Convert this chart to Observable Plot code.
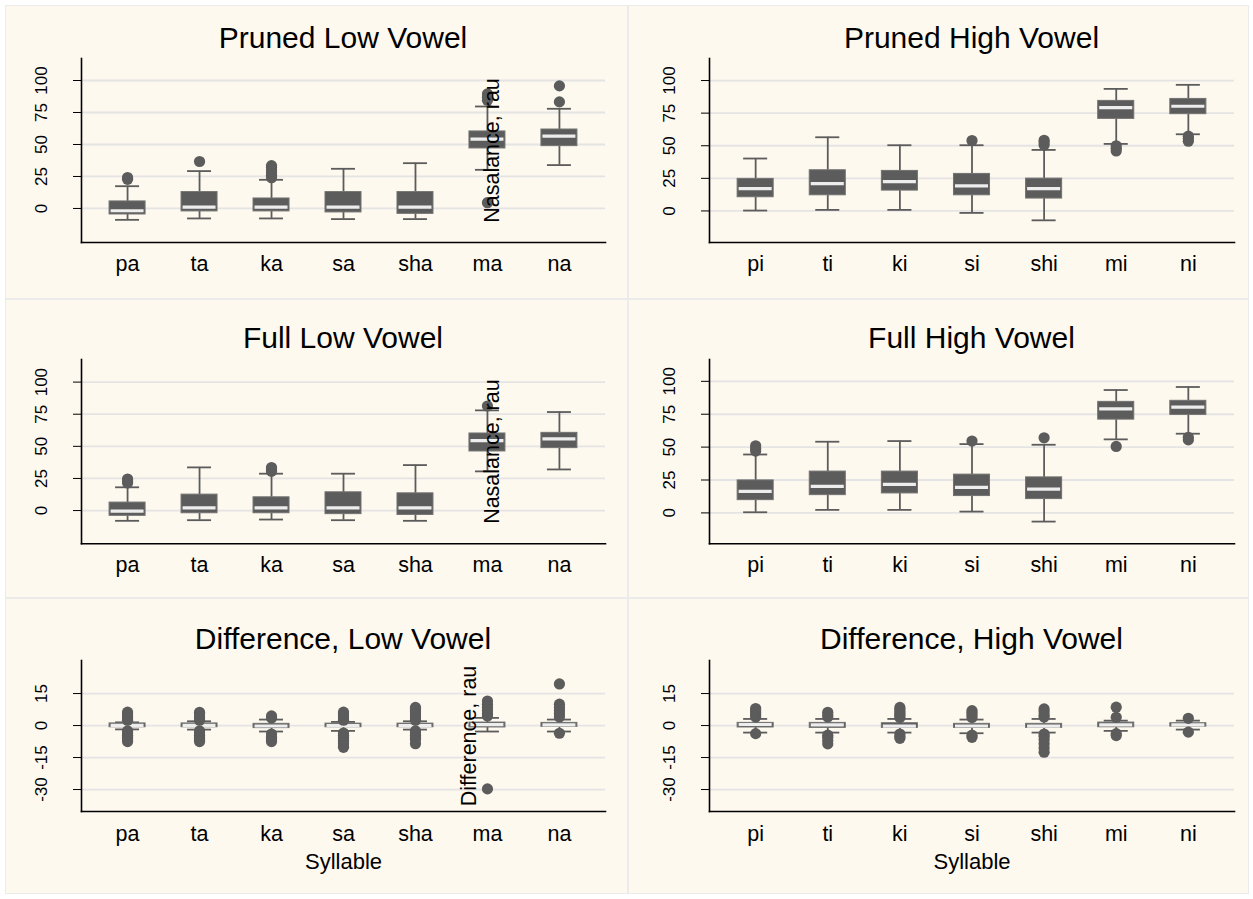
<!DOCTYPE html>
<html><head><meta charset="utf-8">
<script src="https://cdn.jsdelivr.net/npm/d3@7"></script>
<script src="https://cdn.jsdelivr.net/npm/@observablehq/plot@0.6"></script>
<style>
html,body{margin:0;padding:0;background:#fff;}
body{width:1253px;height:899px;position:relative;overflow:hidden;font-family:"Liberation Sans",Arial,Helvetica,sans-serif;}
.panel{position:absolute;background:#fef9ef;box-shadow:0 0 0 1px #ebebeb;}
.title{position:absolute;font-size:30px;line-height:30px;text-align:center;color:#000;white-space:nowrap;}
.plot{position:absolute;}
</style></head><body>
<script>
// ---------- categories ----------
const lowCats  = ["pa","ta","ka","sa","sha","ma","na"];
const highCats = ["pi","ti","ki","si","shi","mi","ni"];

// ---------- tick labels ----------
const nasTicks  = [0, 25, 50, 75, 100];
const diffTicks = [-30, -15, 0, 15];

// ---------- Pruned Low Vowel ----------
const prunedLowQ1  = [-4.7, -2.3, -2.3, -3.1, -4.2, 46.9, 48.7];
const prunedLowMed = [-1.8, 1.0, 1.0, 1.0, 1.0, 54.2, 56.5];
const prunedLowQ3  = [5.5, 12.8, 7.8, 12.8, 12.8, 60.2, 61.7];
const prunedLowLo  = [-8.9, -7.8, -7.8, -8.3, -8.3, 30.2, 33.9];
const prunedLowHi  = [17.4, 29.2, 22.4, 31.0, 35.4, 79.7, 77.9];
const prunedLowOut = [[22.8, 24.2], [36.7], [24, 26, 28, 30, 32, 33.5], [], [], [4.5, 84.5, 87, 89.5], [83.3, 95.8]];

// ---------- Pruned High Vowel ----------
const prunedHighQ1  = [10.5, 12.0, 15.6, 12.0, 9.5, 70.6, 74.2];
const prunedHighMed = [17.1, 21.0, 22.5, 19.2, 17.1, 79.3, 80.3];
const prunedHighQ3  = [24.6, 31.2, 30.7, 28.4, 24.8, 84.4, 85.9];
const prunedHighLo  = [0.3, 0.8, 0.8, -1.5, -7.2, 51.4, 58.8];
const prunedHighHi  = [40.2, 56.5, 50.4, 50.4, 46.8, 93.6, 96.7];
const prunedHighOut = [[], [], [], [54], [50.5, 52.5, 54.2], [46, 48, 50], [53.5, 55.5, 57.3]];

// ---------- Full Low Vowel ----------
const fullLowQ1  = [-4.1, -2.1, -2.1, -2.8, -3.4, 46.0, 48.6];
const fullLowMed = [-0.5, 2.1, 2.1, 2.1, 2.1, 54.5, 55.8];
const fullLowQ3  = [6.2, 12.4, 10.3, 14.2, 13.4, 60.0, 60.5];
const fullLowLo  = [-8.0, -7.5, -7.0, -7.5, -8.0, 30.5, 32.0];
const fullLowHi  = [18.1, 33.6, 28.7, 28.7, 35.4, 78.0, 76.7];
const fullLowOut = [[21.5, 23, 24.5], [], [30.5, 32, 33.5], [], [], [81.4], []];

// ---------- Full High Vowel ----------
const fullHighQ1  = [9.7, 13.5, 14.8, 12.8, 10.5, 70.9, 74.5];
const fullHighMed = [16.3, 20.2, 21.7, 19.4, 18.1, 79.1, 80.4];
const fullHighQ3  = [24.7, 31.4, 31.4, 29.1, 27.0, 84.4, 85.2];
const fullHighLo  = [0.5, 2.3, 2.3, 1.0, -6.6, 55.9, 60.2];
const fullHighHi  = [44.4, 54.1, 54.6, 52.3, 51.8, 93.4, 95.7];
const fullHighOut = [[47, 49, 51], [], [], [54.6], [57.1], [50.5], [55.5, 57.5]];

// ---------- Difference, Low Vowel ----------
const diffLowQ1  = [-0.8, -0.8, -1.2, -0.8, -0.8, -0.9, -0.6];
const diffLowMed = [0.1, 0.1, -0.2, 0.0, 0.0, 0.4, 0.3];
const diffLowQ3  = [1.0, 1.0, 0.8, 0.9, 0.9, 1.4, 1.25];
const diffLowLo  = [-1.8, -1.9, -2.8, -2.5, -1.9, -2.8, -2.8];
const diffLowHi  = [1.5, 2.0, 2.8, 1.7, 2.0, 3.6, 2.8];
const diffLowOut = [
  [2.5, 3.5, 4.5, 5.5, 6.3, -2.5, -3.5, -4.5, -5.5, -6.5, -7.5],
  [2.5, 3.5, 4.5, 5.5, 6.2, -2.5, -3.5, -4.5, -5.5, -6.5, -7.5],
  [3.5, 4.5, -4, -5.5, -6.5, -7.5],
  [2.5, 3.5, 4.5, 5.5, 6.3, -3.5, -4.5, -5.5, -6.5, -7.5, -8.5, -9.5, -10.2],
  [2.5, 3.5, 4.5, 5.5, 6.5, 7.5, 8.5, -2.5, -3.5, -4.5, -5.5, -6.5, -8.5],
  [4.5, 5.5, 7, 8.5, 10, 11.5, -29.7],
  [19.5, 4, 5.5, 7, 8.5, 10, -3.6]
];

// ---------- Difference, High Vowel ----------
const diffHighQ1  = [-0.9, -1.1, -1.1, -1.1, -1.1, -0.8, -0.5];
const diffHighMed = [0.5, 0.3, -0.3, -0.2, -0.3, 0.3, 0.3];
const diffHighQ3  = [1.25, 1.25, 1.1, 0.8, 0.8, 1.4, 1.1];
const diffHighLo  = [-3.3, -3.3, -3.3, -3.6, -3.3, -2.5, -1.9];
const diffHighHi  = [3.1, 3.1, 3.1, 2.8, 3.1, 2.3, 2.3];
const diffHighOut = [
  [4, 5, 6, 7, 8, -3.8],
  [4, 5, 6.2, -4.5, -5.5, -7, -8.6],
  [3.8, 4.7, 5.5, 6.5, 7.5, 8.5, -4, -5, -6],
  [3.8, 5, 6, 7, -4.5, -5.5],
  [4, 5, 6.5, 7.8, -4, -5, -6.5, -8.5, -10.5, -12.5],
  [3.9, 8.6, -3.8, -4.7],
  [3.4, -3.1]
];

// ---------- titles / labels ----------
const titles = ["Pruned Low Vowel", "Pruned High Vowel", "Full Low Vowel", "Full High Vowel", "Difference, Low Vowel", "Difference, High Vowel"];
const yTitleNas = "Nasalance, rau";
const yTitleDiff = "Difference, rau";
const xTitle = "Syllable";

// ---------- layout ----------
const FONT = '"Liberation Sans", Arial, Helvetica, sans-serif';
const DARK = "#5c5c5c";
const cols = [
  {left: 6, width: 621, fL: 81, fR: 605},
  {left: 629, width: 619, fL: 709, fR: 1234}
];
const rows = [
  {top: 6, h: 292, fT: 58.3, fB: 242.3, tBase: 48.2, bottom: false},
  {top: 300, h: 297, fT: 358.6, fB: 542.8, tBase: 348.2, bottom: false},
  {top: 599, h: 294, fT: 660, fB: 811, tBase: 649, bottom: true}
];

const panels = [
  {r: 0, c: 0, cats: lowCats,  q1: prunedLowQ1, med: prunedLowMed, q3: prunedLowQ3, lo: prunedLowLo, hi: prunedLowHi, out: prunedLowOut, ticks: nasTicks, yTitle: yTitleNas, yDx: 149, dom: [-26.6, 117.2]},
  {r: 0, c: 1, cats: highCats, q1: prunedHighQ1, med: prunedHighMed, q3: prunedHighQ3, lo: prunedHighLo, hi: prunedHighHi, out: prunedHighOut, ticks: nasTicks, dom: [-24.2, 116.9]},
  {r: 1, c: 0, cats: lowCats,  q1: fullLowQ1, med: fullLowMed, q3: fullLowQ3, lo: fullLowLo, hi: fullLowHi, out: fullLowOut, ticks: nasTicks, yTitle: yTitleNas, yDx: 149, dom: [-25.8, 117.6]},
  {r: 1, c: 1, cats: highCats, q1: fullHighQ1, med: fullHighMed, q3: fullHighQ3, lo: fullHighLo, hi: fullHighHi, out: fullHighOut, ticks: nasTicks, dom: [-23.4, 116.6]},
  {r: 2, c: 0, cats: lowCats,  q1: diffLowQ1, med: diffLowMed, q3: diffLowQ3, lo: diffLowLo, hi: diffLowHi, out: diffLowOut, ticks: diffTicks, yTitle: yTitleDiff, yDx: 125.6, dom: [-40.3, 30.5]},
  {r: 2, c: 1, cats: highCats, q1: diffHighQ1, med: diffHighMed, q3: diffHighQ3, lo: diffHighLo, hi: diffHighHi, out: diffHighOut, ticks: diffTicks, dom: [-40.3, 30.5]}
];

panels.forEach((p, i) => {
  const col = cols[p.c], row = rows[p.r];
  const bg = document.createElement("div");
  bg.className = "panel";
  Object.assign(bg.style, {left: col.left + "px", top: row.top + "px", width: col.width + "px", height: row.h + "px"});
  document.body.appendChild(bg);

  const t = document.createElement("div");
  t.className = "title";
  t.textContent = titles[i];
  Object.assign(t.style, {left: col.fL + "px", width: (col.fR - col.fL) + "px", top: (row.tBase - 25.4) + "px"});
  document.body.appendChild(t);

  const data = p.cats.map((c, k) => ({c, q1: p.q1[k], med: p.med[k], q3: p.q3[k], lo: p.lo[k], hi: p.hi[k]}));
  const pts = p.cats.flatMap((c, k) => p.out[k].map(v => ({c, v})));

  const mTop = 10;
  const mBottom = row.bottom ? 75 : 45;
  const frameH = row.fB - row.fT;
  const mLeft = col.fL - col.left;
  const mRight = col.left + col.width - col.fR;

  const marks = [
    Plot.gridY(p.ticks, {stroke: "#e4e4e4", strokeOpacity: 1, strokeWidth: 1.8}),
    Plot.ruleX(data, {x: "c", y1: "lo", y2: "q1", stroke: DARK, strokeWidth: 1.8}),
    Plot.ruleX(data, {x: "c", y1: "q3", y2: "hi", stroke: DARK, strokeWidth: 1.8}),
    Plot.tickY(data, {x: "c", y: "lo", stroke: DARK, strokeWidth: 1.8, insetLeft: 6, insetRight: 6}),
    Plot.tickY(data, {x: "c", y: "hi", stroke: DARK, strokeWidth: 1.8, insetLeft: 6, insetRight: 6}),
    Plot.barY(data, {x: "c", y1: "q1", y2: "q3", fill: DARK, stroke: "#727272", strokeWidth: 1}),
    Plot.tickY(data, {x: "c", y: "med", stroke: "#ededed", strokeWidth: 3.2, insetLeft: 1.5, insetRight: 1.5}),
    Plot.dot(pts, {x: "c", y: "v", r: 5.6, fill: DARK, stroke: "none"}),
    Plot.axisY(p.ticks, {tickSize: 8, tickRotate: -90, textAnchor: "middle", lineAnchor: "middle", tickPadding: 32, fontSize: 17, label: null, stroke: "#000", tickFormat: d => String(d)}),
    Plot.axisX({tickSize: 0, tickPadding: row.bottom ? 14.3 : 12.8, fontSize: 21.5, label: null}),
    Plot.frame({anchor: "left", stroke: "#000", strokeWidth: 1.6}),
    Plot.frame({anchor: "bottom", stroke: "#000", strokeWidth: 1.6})
  ];
  if (p.yTitle) {
    marks.push(Plot.text([p.yTitle], {text: d => d, frameAnchor: "middle", dx: p.yDx, rotate: -90, fontSize: 21.5, fill: "#000"}));
  }
  if (row.bottom) {
    marks.push(Plot.text([xTitle], {text: d => d, frameAnchor: "bottom", lineAnchor: "top", dy: 41.4, fontSize: 22, fill: "#000"}));
  }

  const svg = Plot.plot({
    width: col.width,
    height: mTop + frameH + mBottom,
    marginLeft: mLeft,
    marginRight: mRight,
    marginTop: mTop,
    marginBottom: mBottom,
    x: {type: "band", domain: p.cats, paddingInner: 0.5, paddingOuter: 0.39, round: false},
    y: {domain: p.dom},
    style: {background: "transparent", fontFamily: FONT, color: "#000", overflow: "visible"},
    marks
  });
  svg.classList.add("plot");
  Object.assign(svg.style, {left: col.left + "px", top: (row.fT - mTop) + "px", position: "absolute"});
  document.body.appendChild(svg);
});
</script>
</body></html>
